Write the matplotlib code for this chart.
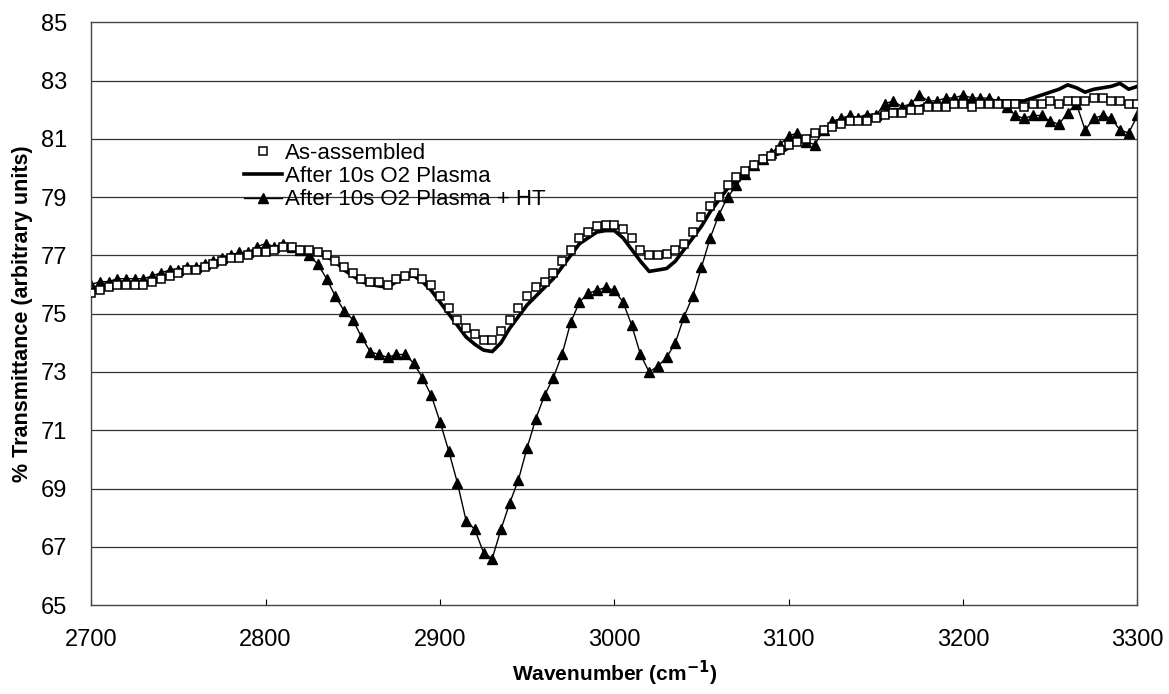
import numpy as np
import matplotlib
matplotlib.use('Agg')
import matplotlib.pyplot as plt

plt.rcParams['font.family'] = ['Liberation Sans', 'DejaVu Sans']
plt.rcParams['axes.unicode_minus'] = False

# wavenumber grid (cm-1), one reading every 5
wavenumber = np.arange(2700, 3301, 5)

# as-assembled (open squares)
as_assembled = [
    75.7, 75.8, 75.9, 76.0, 76.0, 76.0, 76.0, 76.1, 76.2, 76.3,
    76.4, 76.5, 76.5, 76.6, 76.7, 76.8, 76.9, 76.9, 77.0, 77.1,
    77.1, 77.2, 77.3, 77.3, 77.2, 77.2, 77.1, 77.0, 76.8, 76.6,
    76.4, 76.2, 76.1, 76.1, 76.0, 76.2, 76.3, 76.4, 76.2, 76.0,
    75.6, 75.2, 74.8, 74.5, 74.3, 74.1, 74.1, 74.4, 74.8, 75.2,
    75.6, 75.9, 76.1, 76.4, 76.8, 77.2, 77.6, 77.8, 78.0, 78.05,
    78.05, 77.9, 77.6, 77.2, 77.0, 77.0, 77.05, 77.2, 77.4, 77.8,
    78.3, 78.7, 79.0, 79.4, 79.7, 79.9, 80.1, 80.3, 80.4, 80.6,
    80.8, 80.9, 81.0, 81.2, 81.3, 81.4, 81.5, 81.6, 81.6, 81.6,
    81.7, 81.8, 81.9, 81.9, 82.0, 82.0, 82.1, 82.1, 82.1, 82.2,
    82.2, 82.1, 82.2, 82.2, 82.2, 82.2, 82.2, 82.1, 82.2, 82.2,
    82.3, 82.2, 82.3, 82.3, 82.3, 82.4, 82.4, 82.3, 82.3, 82.2,
    82.2,
]

# after 10s O2 plasma (thick line)
o2_plasma = [
    75.75, 75.85, 75.95, 76.05, 76.05, 76.05, 76.05, 76.15, 76.25, 76.35,
    76.45, 76.55, 76.55, 76.65, 76.75, 76.85, 76.95, 76.95, 77.05, 77.15,
    77.15, 77.25, 77.3, 77.3, 77.2, 77.15, 77.05, 76.95, 76.8, 76.5,
    76.3, 76.1, 76.0, 75.95, 75.9, 76.1, 76.25, 76.3, 76.1, 75.8,
    75.4, 75.0, 74.6, 74.2, 73.95, 73.75, 73.7, 74.0, 74.5, 74.9,
    75.3, 75.6, 75.9, 76.2, 76.6, 77.0, 77.4, 77.6, 77.8, 77.85,
    77.85, 77.6, 77.2, 76.8, 76.45, 76.5, 76.55, 76.8, 77.2, 77.6,
    78.0, 78.5, 78.9, 79.3, 79.6, 79.9, 80.1, 80.2, 80.4, 80.5,
    80.7, 80.9, 81.0, 81.2, 81.3, 81.5, 81.6, 81.7, 81.7, 81.8,
    81.8, 81.9, 82.0, 82.0, 82.1, 82.1, 82.2, 82.2, 82.2, 82.3,
    82.3, 82.3, 82.3, 82.3, 82.3, 82.3, 82.3, 82.3, 82.4, 82.5,
    82.6, 82.7, 82.85, 82.75, 82.6, 82.7, 82.75, 82.8, 82.9, 82.7,
    82.8,
]

# after 10s O2 plasma + HT (triangles)
o2_plasma_ht = [
    76.0, 76.1, 76.1, 76.2, 76.2, 76.2, 76.2, 76.3, 76.4, 76.5,
    76.5, 76.6, 76.6, 76.7, 76.8, 76.9, 77.0, 77.1, 77.1, 77.3,
    77.4, 77.3, 77.4, 77.3, 77.2, 77.0, 76.7, 76.2, 75.6, 75.1,
    74.8, 74.2, 73.7, 73.6, 73.5, 73.6, 73.6, 73.3, 72.8, 72.2,
    71.3, 70.3, 69.2, 67.9, 67.6, 66.8, 66.6, 67.6, 68.5, 69.3,
    70.4, 71.4, 72.2, 72.8, 73.6, 74.7, 75.4, 75.7, 75.8, 75.9,
    75.8, 75.4, 74.6, 73.6, 73.0, 73.2, 73.5, 74.0, 74.9, 75.6,
    76.6, 77.6, 78.4, 79.0, 79.4, 79.8, 80.1, 80.3, 80.5, 80.8,
    81.1, 81.2, 80.9, 80.8, 81.3, 81.6, 81.7, 81.8, 81.7, 81.8,
    81.8, 82.2, 82.3, 82.1, 82.2, 82.5, 82.3, 82.3, 82.4, 82.4,
    82.5, 82.4, 82.4, 82.4, 82.3, 82.1, 81.8, 81.7, 81.8, 81.8,
    81.6, 81.5, 81.9, 82.2, 81.3, 81.7, 81.8, 81.7, 81.3, 81.2,
    81.8,
]

x_ticks = [2700, 2800, 2900, 3000, 3100, 3200, 3300]
y_ticks = [65, 67, 69, 71, 73, 75, 77, 79, 81, 83, 85]


def main():
    fig = plt.figure(figsize=(11.69, 6.94), dpi=100)
    ax = fig.add_axes([0.078, 0.128, 0.895, 0.84])

    # horizontal grid like the excel chart
    for y in y_ticks[1:-1]:
        ax.axhline(y, color='#333333', lw=0.9, zorder=0)

    ax.plot(wavenumber, o2_plasma_ht, color='black', lw=1.0, marker='^',
            ms=6.5, markerfacecolor='black', markeredgecolor='black',
            label='After 10s O2 Plasma + HT', zorder=2)
    ax.plot(wavenumber, o2_plasma, color='black', lw=2.6,
            label='After 10s O2 Plasma', zorder=3)
    ax.plot(wavenumber, as_assembled, linestyle='none', marker='s', ms=5.5,
            markerfacecolor='white', markeredgecolor='black', mew=1.1,
            label='As-assembled', zorder=4)

    ax.set_xlim(2700, 3300)
    ax.set_ylim(65, 85)
    ax.set_xticks(x_ticks)
    ax.set_yticks(y_ticks)
    ax.tick_params(axis='x', direction='in', length=4, width=0.8,
                   pad=17, labelsize=17)
    ax.tick_params(axis='y', length=0, pad=17, labelsize=17)
    for s in ax.spines.values():
        s.set_color('#444444')
        s.set_linewidth(1.0)

    ax.set_xlabel('Wavenumber (cm$^{\\mathbf{-1}}$)', fontsize=15,
                  fontweight='bold', labelpad=6)
    ax.set_ylabel('% Transmittance (arbitrary units)', fontsize=15.5,
                  fontweight='bold', labelpad=6)

    # legend order: squares, line, triangles
    h, l = ax.get_legend_handles_labels()
    order = [2, 1, 0]
    ax.legend([h[i] for i in order], [l[i] for i in order],
              loc='upper left', bbox_to_anchor=(0.135, 0.812), frameon=False,
              fontsize=16, handlelength=1.75, handletextpad=0.1,
              labelspacing=0.1, borderpad=0)

    fig.savefig('out.png', dpi=100)


if __name__ == '__main__':
    main()
